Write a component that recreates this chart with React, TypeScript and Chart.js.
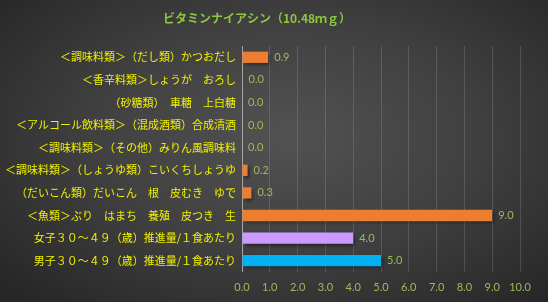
import React, { useEffect, useRef } from "react";
import { Chart, registerables } from "chart.js";

Chart.register(...registerables);

const TITLE = "ビタミンナイアシン（10.48ｍｇ）";
const categories = [
  "＜調味料類＞（だし類）かつおだし",
  "＜香辛料類＞しょうが　おろし",
  "（砂糖類）　車糖　上白糖",
  "＜アルコール飲料類＞（混成酒類）合成清酒",
  "＜調味料類＞（その他）みりん風調味料",
  "＜調味料類＞（しょうゆ類）こいくちしょうゆ",
  "（だいこん類）だいこん　根　皮むき　ゆで",
  "＜魚類＞ぶり　はまち　養殖　皮つき　生",
  "女子３０～４９（歳）推進量/１食あたり",
  "男子３０～４９（歳）推進量/１食あたり",
];
const values = [0.94, 0.02, 0, 0, 0, 0.2, 0.34, 9.0, 4.0, 5.0];
const barColors = [
  "#ED7D31", "#ED7D31", "#ED7D31", "#ED7D31", "#ED7D31",
  "#ED7D31", "#ED7D31", "#ED7D31", "#CC99FF", "#00B0F0",
];
const xTicks = [0, 1, 2, 3, 4, 5, 6, 7, 8, 9, 10];

const NUM_FONT = "Lato, 'Noto Sans CJK JP', sans-serif";
const JP_FONT = "'Noto Sans CJK JP', sans-serif";

export default function App() {
  const ref = useRef<HTMLCanvasElement | null>(null);

  useEffect(() => {
    if (!ref.current) return;

    const titlePlugin = {
      id: "customTitle",
      afterDraw(chart: any) {
        const ctx = chart.ctx;
        ctx.save();
        ctx.font = `bold 12px ${JP_FONT}`;
        ctx.fillStyle = "#8DC63F";
        ctx.textAlign = "center";
        ctx.textBaseline = "middle";
        ctx.fillText(TITLE, 257, 18);
        ctx.restore();
      },
    };

    const shadowPlugin = {
      id: "barShadow",
      beforeDatasetsDraw(chart: any) {
        const ctx = chart.ctx;
        ctx.save();
        ctx.shadowColor = "rgba(0,0,0,0.45)";
        ctx.shadowBlur = 3;
        ctx.shadowOffsetX = 2;
        ctx.shadowOffsetY = 2;
      },
      afterDatasetsDraw(chart: any) {
        chart.ctx.restore();
      },
    };

    const labelPlugin = {
      id: "valueLabels",
      afterDraw(chart: any) {
        const ctx = chart.ctx;
        const meta = chart.getDatasetMeta(0);
        ctx.save();
        ctx.font = `11px ${NUM_FONT}`;
        ctx.fillStyle = "#9BBB59";
        ctx.textAlign = "left";
        ctx.textBaseline = "middle";
        meta.data.forEach((el: any, i: number) => {
          const v = values[i];
          ctx.fillText(v.toFixed(1), el.x + 6, el.y);
        });
        ctx.restore();
      },
    };

    const chart = new Chart(ref.current, {
      type: "bar",
      data: {
        labels: categories,
        datasets: [
          {
            data: values,
            backgroundColor: barColors,
            borderWidth: 0,
            barPercentage: 0.5,
            categoryPercentage: 1,
          },
        ],
      },
      options: {
        indexAxis: "y",
        animation: false,
        responsive: false,
        maintainAspectRatio: false,
        layout: { padding: { top: 46, right: 28, left: 0, bottom: 0 } },
        plugins: {
          legend: { display: false },
          tooltip: { enabled: false },
          title: { display: false },
        },
        scales: {
          x: {
            min: 0,
            max: 10,
            afterBuildTicks(scale: any) {
              scale.ticks = xTicks.map((v) => ({ value: v }));
            },
            afterFit(scale: any) {
              scale.height = 30;
            },
            grid: {
              drawTicks: false,
              color: (c: any) =>
                c.tick && c.tick.value === 0 ? "#A6A6A6" : "rgba(255,255,255,0.14)",
              lineWidth: 1,
            },
            border: { display: false },
            ticks: {
              padding: 9,
              color: "#9BBB59",
              font: { family: NUM_FONT, size: 11 },
              callback: (v: any) => Number(v).toFixed(1),
            },
          },
          y: {
            afterFit(scale: any) {
              scale.width = 242;
            },
            grid: { display: false, drawTicks: false },
            border: { display: false },
            ticks: {
              padding: 6,
              color: "#F0F000",
              font: { family: JP_FONT, size: 11 },
              autoSkip: false,
            },
          },
        },
      },
      plugins: [titlePlugin, shadowPlugin, labelPlugin],
    } as any);

    return () => chart.destroy();
  }, []);

  return (
    <div
      style={{
        position: "fixed",
        left: 0,
        top: 0,
        width: 548,
        height: 302,
        background:
          "radial-gradient(ellipse 70% 75% at 52% 45%, #525252 0%, #404040 50%, #262626 100%)",
      }}
    >
      <canvas ref={ref} width={548} height={302} style={{ display: "block" }} />
    </div>
  );
}
